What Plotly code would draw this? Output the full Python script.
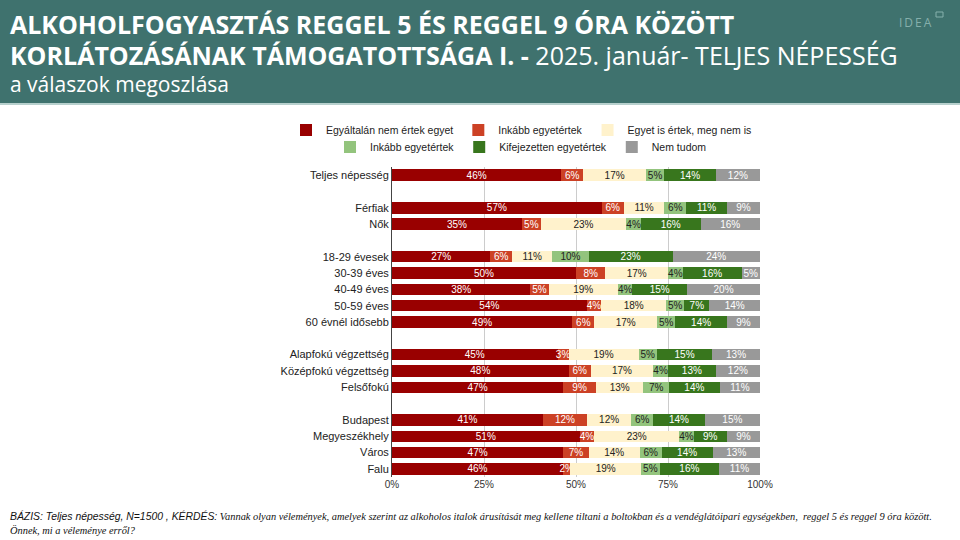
import plotly.graph_objects as go

categories = ["Teljes népesség", " ", "Férfiak", "Nők", "  ",
              "18-29 évesek", "30-39 éves", "40-49 éves", "50-59 éves", "60 évnél idősebb", "   ",
              "Alapfokú végzettség", "Középfokú végzettség", "Felsőfokú", "    ",
              "Budapest", "Megyeszékhely", "Város", "Falu"]

series_names = ["Egyáltalán nem értek egyet", "Inkább egyetértek", "Egyet is értek, meg nem is",
                "Inkább egyetértek", "Kifejezetten egyetértek", "Nem tudom"]

s_egyaltalan = [46, None, 57, 35, None, 27, 50, 38, 54, 49, None, 45, 48, 47, None, 41, 51, 47, 46]
s_inkabb_nem = [6, None, 6, 5, None, 6, 8, 5, 4, 6, None, 3, 6, 9, None, 12, 4, 7, 2]
s_egyet_is = [17, None, 11, 23, None, 11, 17, 19, 18, 17, None, 19, 17, 13, None, 12, 23, 14, 19]
s_inkabb_igen = [5, None, 6, 4, None, 10, 4, 4, 5, 5, None, 5, 4, 7, None, 6, 4, 6, 5]
s_kifejezetten = [14, None, 11, 16, None, 23, 16, 15, 7, 14, None, 15, 13, 14, None, 14, 9, 14, 16]
s_nem_tudom = [12, None, 9, 16, None, 24, 5, 20, 14, 9, None, 13, 12, 11, None, 15, 9, 13, 11]

x_ticks = [0, 25, 50, 75, 100]
x_ticklabels = ["0%", "25%", "50%", "75%", "100%"]

all_series = [s_egyaltalan, s_inkabb_nem, s_egyet_is, s_inkabb_igen, s_kifejezetten, s_nem_tudom]
colors = ["#990000", "#cc4125", "#fff2cc", "#93c47d", "#38761d", "#999999"]
text_colors = ["#ffffff", "#ffffff", "#222222", "#222222", "#ffffff", "#ffffff"]
legend_ids = ["legend", "legend", "legend", "legend2", "legend2", "legend2"]

W, H = 960, 540
L, R, T, B = 392, 760, 167, 477

fig = go.Figure()
for name, vals, col, tcol, lg in zip(series_names, all_series, colors, text_colors, legend_ids):
    fig.add_trace(go.Bar(
        y=categories, x=vals, name=name, orientation="h",
        marker=dict(color=col, line=dict(width=0)),
        text=[("%d%%" % v) if v is not None else "" for v in vals],
        textposition="inside", insidetextanchor="middle", textangle=0,
        textfont=dict(color=tcol, size=10, family="Liberation Sans, Arial, sans-serif"),
        legend=lg, hoverinfo="skip",
    ))

def px_x(p):
    return (p - L) / (R - L)

def px_y(p):
    return (B - p) / (B - T)

title_font = "Open Sans"
annotations = [
    dict(text="<b>ALKOHOLFOGYASZTÁS REGGEL 5 ÉS REGGEL 9 ÓRA KÖZÖTT</b>",
         xref="paper", yref="paper", x=px_x(8), y=px_y(24), xanchor="left", yanchor="middle",
         showarrow=False, font=dict(family=title_font, size=25, color="white")),
    dict(text="<b>KORLÁTOZÁSÁNAK TÁMOGATOTTSÁGA I. -</b> 2025. január- TELJES NÉPESSÉG",
         xref="paper", yref="paper", x=px_x(8), y=px_y(55), xanchor="left", yanchor="middle",
         showarrow=False, font=dict(family=title_font, size=25, color="white")),
    dict(text="a válaszok megoszlása",
         xref="paper", yref="paper", x=px_x(8), y=px_y(84), xanchor="left", yanchor="middle",
         showarrow=False, font=dict(family=title_font, size=21, color="white")),
    dict(text="I\u2009D\u2009E\u2009A",
         xref="paper", yref="paper", x=px_x(915), y=px_y(23), xanchor="center", yanchor="middle",
         showarrow=False, font=dict(family="Open Sans", size=12, color="#86b0ac")),
    dict(text="<i><span style='font-family:Liberation Sans Narrow, Liberation Sans'>BÁZIS: Teljes népesség, N=1500 , KÉRDÉS:</span> "
              "Vannak olyan vélemények, amelyek szerint az alkoholos italok árusítását meg kellene tiltani a boltokban és a vendéglátóipari egységekben,  reggel 5 és reggel 9 óra között.<br>"
              "Önnek, mi a véleménye erről?</i>",
         xref="paper", yref="paper", x=px_x(8), y=px_y(508), xanchor="left", yanchor="top",
         align="left", showarrow=False,
         font=dict(family="Liberation Serif, Times New Roman, serif", size=10.4, color="#111111")),
]

shapes = [
    dict(type="rect", xref="paper", yref="paper", x0=px_x(0), x1=px_x(W), y0=px_y(103), y1=px_y(0),
         fillcolor="#3f726e", line=dict(width=0), layer="below"),
    dict(type="line", xref="paper", yref="paper", x0=px_x(0), x1=px_x(W), y0=px_y(104), y1=px_y(104),
         line=dict(color="#9fc1bd", width=1.5)),
    dict(type="rect", xref="paper", yref="paper", x0=px_x(936), x1=px_x(943), y0=px_y(17), y1=px_y(12),
         fillcolor="rgba(0,0,0,0)", line=dict(color="#86b0ac", width=1)),
]

fig.update_layout(
    width=W, height=H,
    margin=dict(l=L, r=W - R, t=T, b=H - B, autoexpand=False),
    barmode="stack", barnorm="percent", bargap=0.3,
    paper_bgcolor="white", plot_bgcolor="white",
    uniformtext=dict(minsize=10, mode="show"),
    font=dict(family="Liberation Sans, Arial, sans-serif", size=10, color="#333333"),
    xaxis=dict(range=[0, 100], tickvals=x_ticks, ticktext=x_ticklabels,
               showgrid=True, gridcolor="#cccccc", gridwidth=1, zeroline=False,
               showline=False, ticks="", tickfont=dict(size=10, color="#333333")),
    yaxis=dict(categoryorder="array", categoryarray=categories, autorange="reversed",
               showline=True, linecolor="#444444", linewidth=1, ticks="", ticklen=0,
               showgrid=False, tickfont=dict(size=11, color="#222222")),
    legend=dict(orientation="h", xref="paper", yref="paper",
                x=px_x(286), y=px_y(130), xanchor="left", yanchor="middle",
                bgcolor="rgba(0,0,0,0)",
                font=dict(size=10.5, color="#222222"), traceorder="normal", itemwidth=30),
    legend2=dict(orientation="h", xref="paper", yref="paper",
                 x=px_x(330), y=px_y(147), xanchor="left", yanchor="middle",
                 bgcolor="rgba(0,0,0,0)",
                 font=dict(size=10.5, color="#222222"), traceorder="normal", itemwidth=30),
    annotations=annotations, shapes=shapes,
    showlegend=True,
)

fig.write_html("out.html", config={"displayModeBar": False},
               post_script="document.body.style.margin='0';document.body.style.overflow='hidden';")
